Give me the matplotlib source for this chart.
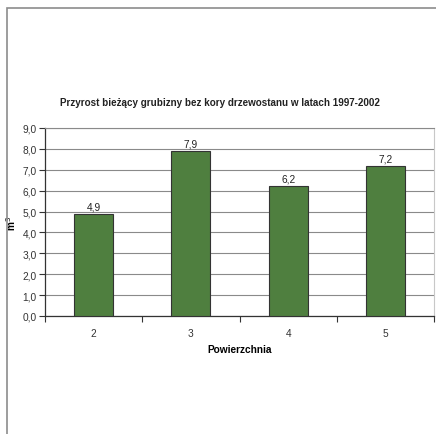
import matplotlib.pyplot as plt
from matplotlib.patches import Rectangle
import numpy as np

plt.rcParams['font.family'] = ['Liberation Sans', 'DejaVu Sans']

categories = ['2', '3', '4', '5']
values = [4.9, 7.9, 6.2, 7.2]
yticks = [0, 1, 2, 3, 4, 5, 6, 7, 8, 9]

W, H = 436, 435
fig = plt.figure(figsize=(W / 100, H / 100), dpi=100)

# outer chart frame (runs off the right and bottom edge)
fig.patches.append(Rectangle((7 / W, -0.1), 1.2, 1 - 9 / H + 0.1, transform=fig.transFigure,
                             fill=False, edgecolor='#8c8c8c', linewidth=1.2))

ax = fig.add_axes([45 / W, 1 - 317 / H, (434 - 45) / W, (317 - 129) / H])
x = np.arange(len(categories))
bars = ax.bar(x, values, width=0.4, color='#4f7f3f', edgecolor='#333333', linewidth=0.8, zorder=3)
for xi, v in zip(x, values):
    ax.text(xi, v + 0.12, f'{v:.1f}'.replace('.', ','), ha='center', va='bottom',
            fontsize=7.3, color='#222222')

ax.set_xlim(-0.5, len(categories) - 0.5)
ax.set_ylim(0, 9)
ax.set_yticks(yticks)
ax.set_yticklabels([f'{t:.1f}'.replace('.', ',') for t in yticks], fontsize=7.3, color='#333333')
ax.yaxis.grid(True, color='#8a8a8a', linewidth=0.8, zorder=0)

ax.set_xticks(x)
ax.set_xticklabels(categories, fontsize=7.3, color='#333333')
ax.set_xticks(np.arange(len(categories) + 1) - 0.5, minor=True)
ax.tick_params(axis='x', which='major', length=0, pad=9)
ax.tick_params(axis='x', which='minor', length=4, width=0.8, color='#333333', direction='out')
ax.tick_params(axis='y', length=4, width=0.8, color='#333333', pad=2)

for side in ['left', 'bottom']:
    ax.spines[side].set_color('#333333')
    ax.spines[side].set_linewidth(0.9)
ax.spines['right'].set_color('#c8c8c8')
ax.spines['top'].set_color('#8a8a8a')
ax.spines['top'].set_linewidth(0.8)

ax.set_xlabel('Powierzchnia', fontsize=7.3, fontweight='bold', labelpad=4)
ax.set_ylabel('m$^3$', fontsize=7.3, fontweight='bold', labelpad=3)

fig.text(220 / W, 1 - 103 / H, 'Przyrost bieżący grubizny bez kory drzewostanu w latach 1997-2002',
         ha='center', va='center', fontsize=7.1, fontweight='bold', color='#222222')

fig.savefig('out.png', dpi=100)
